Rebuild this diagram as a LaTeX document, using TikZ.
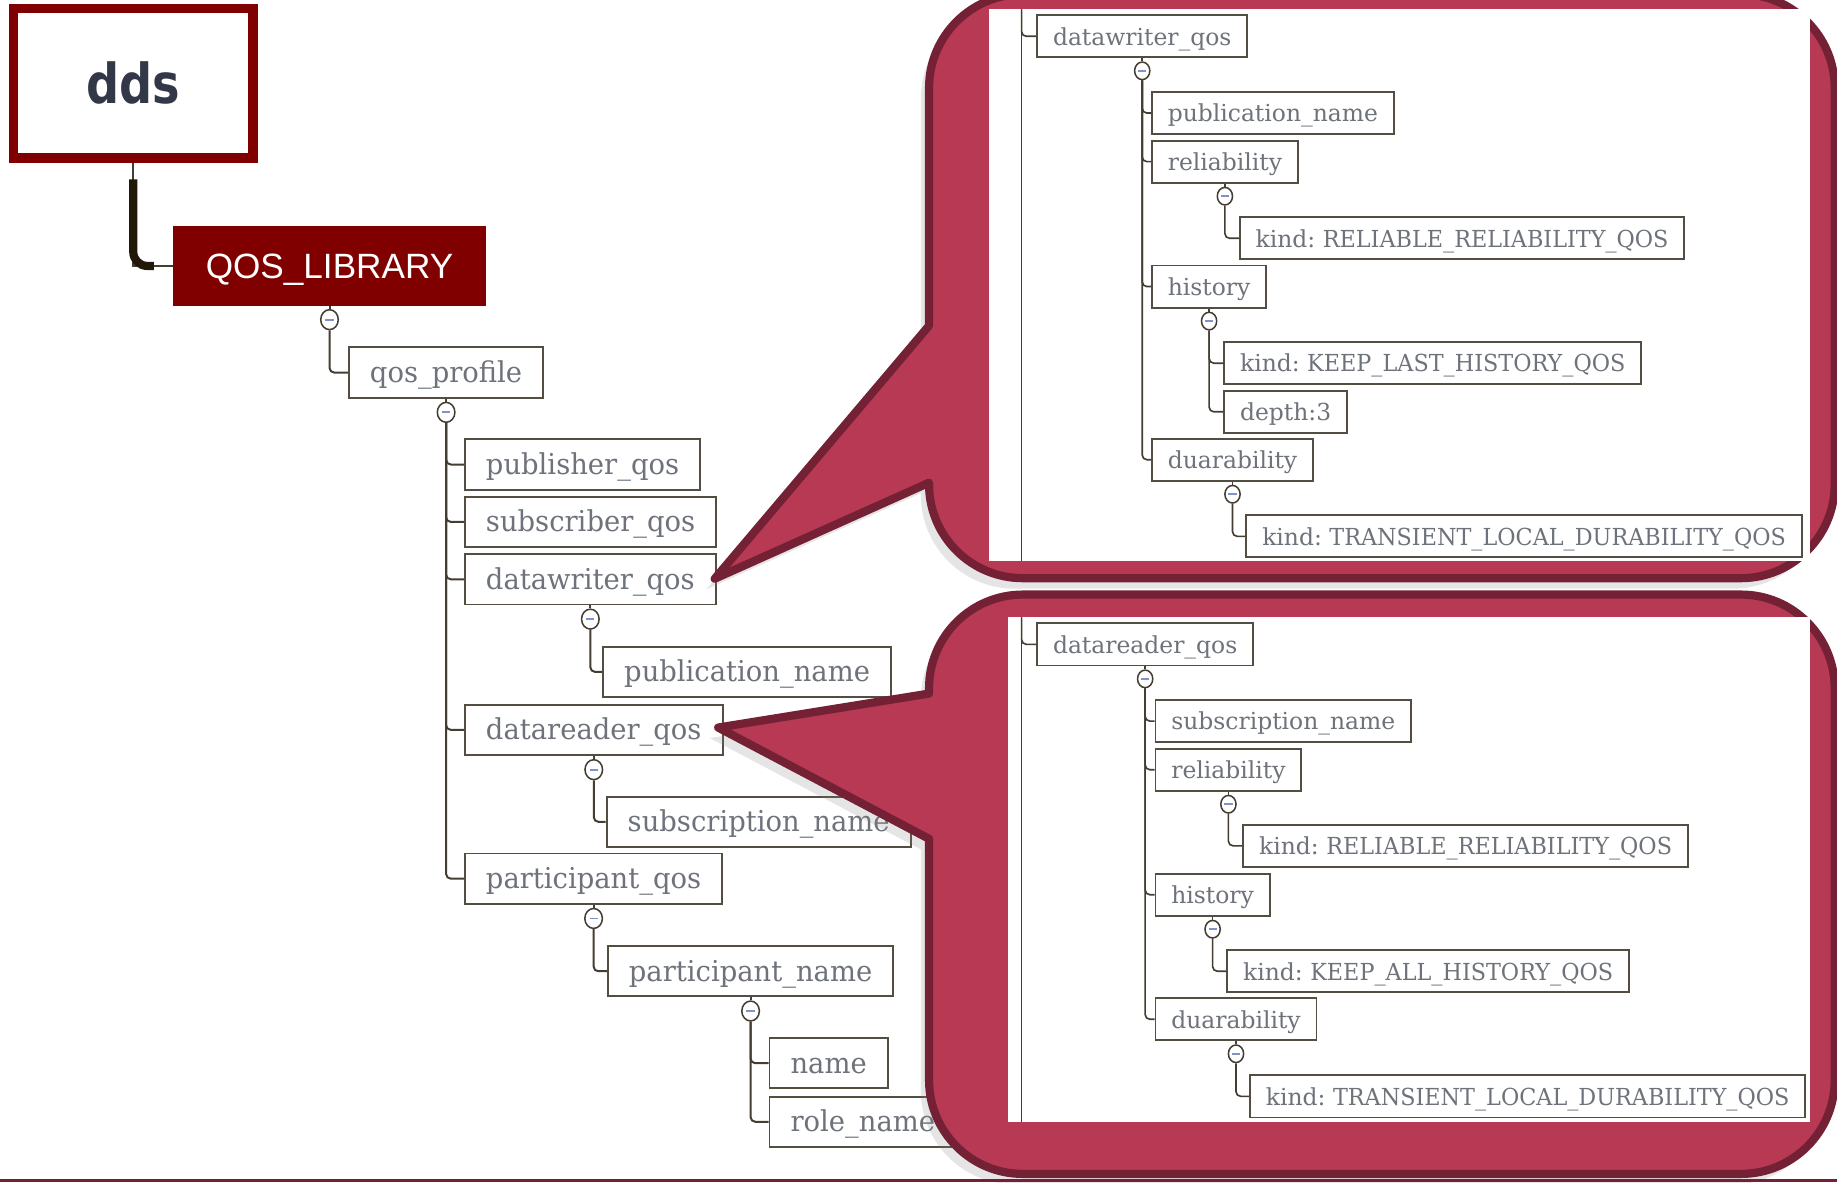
\documentclass[tikz,border=0pt]{standalone}
\usepackage{fontspec}
\usetikzlibrary{positioning,shapes.geometric,shadows}
\newfontfamily\slabfont[FakeStretch=0.955]{DejaVu Serif}
\newfontfamily\slabpanel[FakeStretch=1.0]{DejaVu Serif}
\newfontfamily\slabcaps[FakeStretch=0.952]{DejaVu Serif}
\newfontfamily\ddsfont[FakeStretch=0.84]{DejaVu Sans}
\newfontfamily\libfont{Liberation Sans}
\definecolor{libred}{RGB}{128,0,0}
\definecolor{callfill}{RGB}{184,57,83}
\definecolor{calledge}{RGB}{116,33,54}
\definecolor{treeline}{RGB}{68,62,50}
\definecolor{boxedge}{RGB}{84,78,66}
\definecolor{labelc}{RGB}{110,114,122}
\definecolor{minusc}{RGB}{128,146,200}
\definecolor{ddsc}{RGB}{50,56,72}
\definecolor{rootline}{RGB}{34,24,10}

\begin{document}
\begin{tikzpicture}[x=1pt,y=-1pt,
    leaf/.style={draw=boxedge,line width=1.6pt,fill=white,anchor=west,
      minimum height=43pt,inner xsep=18pt,text height=20pt,text depth=3pt,
      text=labelc,font=\slabfont\fontsize{24.5}{26}\selectfont},
    sleaf/.style={leaf,minimum height=36pt,inner xsep=13.5pt,text height=17pt,
      text depth=2pt,font=\slabpanel\fontsize{20}{22}\selectfont\frenchspacing},
    tog/.style={ellipse,draw=treeline,line width=1.3pt,fill=white,inner sep=0pt,
      minimum width=15pt,minimum height=17pt,
      path picture={\draw[minusc,line width=1.6pt]
        ([xshift=-3.5pt]path picture bounding box.center) --
        ([xshift=3.5pt]path picture bounding box.center);}},
    stog/.style={tog,minimum width=13pt,minimum height=15pt},
    link/.style={draw=treeline,line width=1.7pt,rounded corners=4pt},
    slink/.style={link,line width=1.4pt},
    callout/.style={fill=callfill,draw=calledge,line width=7pt,line join=round,
      drop shadow={shadow xshift=-7pt,shadow yshift=-9pt,opacity=.2}}]
  \useasboundingbox (0,0) rectangle (1568,1009);
  \fill[white] (0,0) rectangle (1568,1009);

  % root and library
  \node[draw=libred,line width=8pt,minimum width=204.5pt,minimum height=128pt,
    text=ddsc,font=\ddsfont\bfseries\fontsize{47}{47}\selectfont] (dds) at (113.75,71) {dds};
  \node[fill=libred,minimum width=267.5pt,minimum height=68pt,text=white,
    text height=21.5pt,text depth=0pt,
    font=\libfont\fontsize{30}{30}\selectfont] (qlib) at (281.25,227) {QOS\_LIBRARY};
  \draw[treeline,line width=1.5pt] (dds.south) |- (qlib.west);
  \draw[rootline,line width=7pt,rounded corners=12pt] ([yshift=-14pt]dds.south) |- ([xshift=-16pt]qlib.west);

  % left tree
  \node[tog,below=2.5pt of qlib] (qlibt) {};
  \node[leaf] (qp) at (297,318) {qos\_profile};
  \node[tog,below=2.5pt of qp] (qpt) {};
  \node[leaf] (pubq) at (396,396.5) {publisher\_qos};
  \node[leaf] (subq) at (396,445.5) {subscriber\_qos};
  \node[leaf] (dwq) at (396,494.5) {datawriter\_qos};
  \node[tog,below=2.5pt of dwq] (dwqt) {};
  \node[leaf] (pubn) at (514,573.5) {publication\_name};
  \node[leaf] (drq) at (396,623) {datareader\_qos};
  \node[tog,below=2.5pt of drq] (drqt) {};
  \node[leaf] (subn) at (517,701.5) {subscription\_name};
  \node[leaf] (partq) at (396,750) {participant\_qos};
  \node[tog,below=2.5pt of partq] (partqt) {};
  \node[leaf] (partn) at (518,829) {participant\_name};
  \node[tog,below=2.5pt of partn] (partnt) {};
  \node[leaf] (nm) at (656,907.5) {name};
  \node[leaf] (rn) at (656,957.5) {role\_name};

  \draw[link] (qlib.south) -- (qlibt.north);
  \draw[link] (qlibt.south) |- (qp.west);
  \draw[link] (qp.south) -- (qpt.north);
  \foreach \n in {pubq,subq,dwq,drq,partq} \draw[link] (qpt.south) |- (\n.west);
  \draw[link] (dwq.south) -- (dwqt.north);
  \draw[link] (dwqt.south) |- (pubn.west);
  \draw[link] (drq.south) -- (drqt.north);
  \draw[link] (drqt.south) |- (subn.west);
  \draw[link] (partq.south) -- (partqt.north);
  \draw[link] (partqt.south) |- (partn.west);
  \draw[link] (partn.south) -- (partnt.north);
  \foreach \n in {nm,rn} \draw[link] (partnt.south) |- (\n.west);

  % callouts
  \draw[callout] (793,278) -- (610,494) -- (793,412) -- (793,413.5)
    .. controls (793,457.66) and (828.84,493.5) .. (873,493.5)
    -- (1486,493.5) .. controls (1530.16,493.5) and (1566,457.66) .. (1566,413.5)
    -- (1566,75) .. controls (1566,30.84) and (1530.16,-5) .. (1486,-5)
    -- (873,-5) .. controls (828.84,-5) and (793,30.84) .. (793,75) -- cycle;
  \draw[callout] (793,592) -- (613,621) -- (793,716) -- (793,922)
    .. controls (793,966.16) and (828.84,1002) .. (873,1002)
    -- (1486,1002) .. controls (1530.16,1002) and (1566,966.16) .. (1566,922)
    -- (1566,587.5) .. controls (1566,543.34) and (1530.16,507.5) .. (1486,507.5)
    -- (873,507.5) .. controls (828.84,507.5) and (793,543.34) .. (793,587.5) -- cycle;
  \fill[white] (844,8) rectangle (1545,479);
  \fill[white] (860,527) rectangle (1545,958);

  % writer panel
  \coordinate (wtop) at (872,8);
  \coordinate (wbot) at (872,479);
  \node[sleaf] (pdw) at (884.5,31) {datawriter\_qos};
  \node[stog,below=2.5pt of pdw] (pdwt) {};
  \node[sleaf] (ppub) at (982.5,96.5) {publication\_name};
  \node[sleaf] (prel) at (982.5,138) {reliability};
  \node[stog,below=2.5pt of prel] (prelt) {};
  \node[sleaf] (prk) at (1057.5,203.4) {kind: {\slabcaps RELIABLE\_RELIABILITY\_QOS}};
  \node[sleaf] (phis) at (982.5,244.6) {history};
  \node[stog,below=2.5pt of phis] (phist) {};
  \node[sleaf] (phk) at (1044.2,310) {kind: {\slabcaps KEEP\_LAST\_HISTORY\_QOS}};
  \node[sleaf] (phd) at (1044.2,351.5) {depth:3};
  \node[sleaf] (pdur) at (982.5,392.4) {duarability};
  \node[stog,below=2.5pt of pdur] (pdurt) {};
  \node[sleaf] (pdk) at (1063.1,457.8) {kind: {\slabcaps TRANSIENT\_LOCAL\_DURABILITY\_QOS}};

  \draw[slink] (wtop) -- (wbot);
  \draw[slink] (wtop) |- (pdw.west);
  \draw[slink] (pdw.south) -- (pdwt.north);
  \foreach \n in {ppub,prel,phis,pdur} \draw[slink] (pdwt.south) |- (\n.west);
  \draw[slink] (prel.south) -- (prelt.north);
  \draw[slink] (prelt.south) |- (prk.west);
  \draw[slink] (phis.south) -- (phist.north);
  \foreach \n in {phk,phd} \draw[slink] (phist.south) |- (\n.west);
  \draw[slink] (pdur.south) -- (pdurt.north);
  \draw[slink] (pdurt.south) |- (pdk.west);

  % reader panel
  \coordinate (rtop) at (872,527);
  \coordinate (rbot) at (872,958);
  \node[sleaf] (rdr) at (884.5,550) {datareader\_qos};
  \node[stog,below=2.5pt of rdr] (rdrt) {};
  \node[sleaf] (rsub) at (985.5,615.5) {subscription\_name};
  \node[sleaf] (rrel) at (985.5,657) {reliability};
  \node[stog,below=2.5pt of rrel] (rrelt) {};
  \node[sleaf] (rrk) at (1060.5,722) {kind: {\slabcaps RELIABLE\_RELIABILITY\_QOS}};
  \node[sleaf] (rhis) at (985.5,763.7) {history};
  \node[stog,below=2.5pt of rhis] (rhist) {};
  \node[sleaf] (rhk) at (1046.8,829) {kind: {\slabcaps KEEP\_ALL\_HISTORY\_QOS}};
  \node[sleaf] (rdur) at (985.5,870) {duarability};
  \node[stog,below=2.5pt of rdur] (rdurt) {};
  \node[sleaf] (rdk) at (1066.2,935.8) {kind: {\slabcaps TRANSIENT\_LOCAL\_DURABILITY\_QOS}};

  \draw[slink] (rtop) -- (rbot);
  \draw[slink] (rtop) |- (rdr.west);
  \draw[slink] (rdr.south) -- (rdrt.north);
  \foreach \n in {rsub,rrel,rhis,rdur} \draw[slink] (rdrt.south) |- (\n.west);
  \draw[slink] (rrel.south) -- (rrelt.north);
  \draw[slink] (rrelt.south) |- (rrk.west);
  \draw[slink] (rhis.south) -- (rhist.north);
  \draw[slink] (rhist.south) |- (rhk.west);
  \draw[slink] (rdur.south) -- (rdurt.north);
  \draw[slink] (rdurt.south) |- (rdk.west);

  % bottom rule
  \draw[calledge,line width=3pt] (0,1007.5) -- (1568,1007.5);
\end{tikzpicture}
\end{document}
